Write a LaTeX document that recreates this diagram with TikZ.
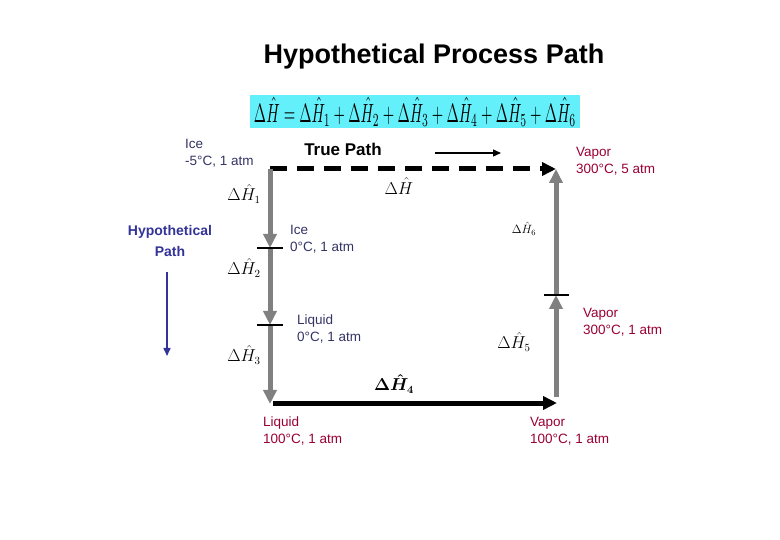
\documentclass[tikz,border=0pt]{standalone}
\usepackage{fontspec}
\setmainfont{Liberation Sans}
\usetikzlibrary{arrows.meta}
\definecolor{navy}{HTML}{333366}
\definecolor{crim}{HTML}{990033}
\definecolor{hypo}{HTML}{333399}
\definecolor{eqbg}{RGB}{100,240,250}
\definecolor{pathgray}{HTML}{808080}
\tikzset{
  lbl/.style={align=left, anchor=west, inner sep=0pt, font=\fontsize{13.5}{17}\selectfont},
  dh/.style={inner sep=0pt, font=\fontsize{16}{18}\selectfont},
  graypath/.style={draw=pathgray, line width=5pt, -{Triangle[width=13pt,length=14pt]}},
  blackpath/.style={draw=black, line width=5pt, -{Triangle[width=13pt,length=14pt]}},
  tick/.style={draw=black, line width=2pt},
}
\begin{document}
\begin{tikzpicture}[x=1pt,y=-1pt]
\useasboundingbox (0,0) rectangle (780,540);
% title
\node[font=\fontsize{27}{30}\selectfont\bfseries] (title) at (434,57) {Hypothetical Process Path};
% equation box
\node[fill=eqbg, minimum width=330pt, minimum height=33pt, inner sep=0pt] (eq) at (415,112)
  {\resizebox{322pt}{25pt}{$\Delta\hat H=\Delta\hat H_1+\Delta\hat H_2+\Delta\hat H_3+\Delta\hat H_4+\Delta\hat H_5+\Delta\hat H_6$}};
% corner coordinates
\coordinate (A) at (270,169);
\coordinate (Aend) at (556,169);
\coordinate (B) at (270,248);
\coordinate (C) at (270,325);
\coordinate (D) at (270,404);
\coordinate (Dstart) at (273,403);
\coordinate (E) at (557,403);
\coordinate (Estart) at (556,397);
\coordinate (F) at (556,295);
\coordinate (G) at (556,169);
% true path dashed
\draw[line width=5pt, dash pattern=on 17pt off 10pt, -{Triangle[width=13pt,length=14pt]}] (A) -- (Aend);
% small direction arrow
\coordinate (sa) at (435,153);
\coordinate (sb) at (501,153);
\draw[line width=1.3pt, -{Triangle[width=7pt,length=8pt]}] (sa) -- (sb);
% hypothetical path left side
\draw[graypath] (A) -- (B);
\draw[graypath] (B) -- (C);
\draw[graypath] (C) -- (D);
\draw[tick] ([xshift=-13pt]B) -- ([xshift=13pt]B);
\draw[tick] ([xshift=-13pt]C) -- ([xshift=13pt]C);
% bottom
\draw[blackpath] (Dstart) -- (E);
% right side
\draw[graypath] (Estart) -- (F);
\draw[graypath] (F) -- (G);
\draw[tick] ([xshift=-12pt]F) -- ([xshift=13pt]F);
% blue arrow
\coordinate (ba) at (167,272);
\coordinate (bb) at (167,356);
\draw[draw=hypo, line width=1.5pt, -{Triangle[width=7pt,length=8pt]}] (ba) -- (bb);
% labels
\node[font=\fontsize{17}{20}\selectfont\bfseries, inner sep=0pt] (tp) at (343,149) {True Path};
\node[font=\fontsize{14}{21}\selectfont\bfseries, text=hypo, align=center, inner sep=0pt] (hp) at (170,241) {Hypothetical\\Path};
\node[lbl, text=navy] (l1) at (185,153) {Ice\\-5°C, 1 atm};
\node[lbl, text=navy] (l2) at (290,239) {Ice\\0°C, 1 atm};
\node[lbl, text=navy] (l3) at (297,329) {Liquid\\0°C, 1 atm};
\node[lbl, text=crim] (l4) at (263,431) {Liquid\\100°C, 1 atm};
\node[lbl, text=crim] (l5) at (530,431) {Vapor\\100°C, 1 atm};
\node[lbl, text=crim] (l6) at (583,322) {Vapor\\300°C, 1 atm};
\node[lbl, text=crim] (l7) at (576,161) {Vapor\\300°C, 5 atm};
% delta H labels
\node[dh] (h0) at (399,186) {$\Delta\hat H$};
\node[dh] (h1) at (244,194) {$\Delta\hat H_1$};
\node[dh] (h2) at (244,268) {$\Delta\hat H_2$};
\node[dh] (h3) at (244,355) {$\Delta\hat H_3$};
\node[inner sep=0pt, font=\fontsize{16}{18}\selectfont\boldmath] (h4) at (394,384) {$\Delta\hat H_4$};
\node[dh] (h5) at (514,342) {$\Delta\hat H_5$};
\node[inner sep=0pt, font=\fontsize{12}{14}\selectfont] (h6) at (524,229) {$\Delta\hat H_6$};
\end{tikzpicture}
\end{document}
